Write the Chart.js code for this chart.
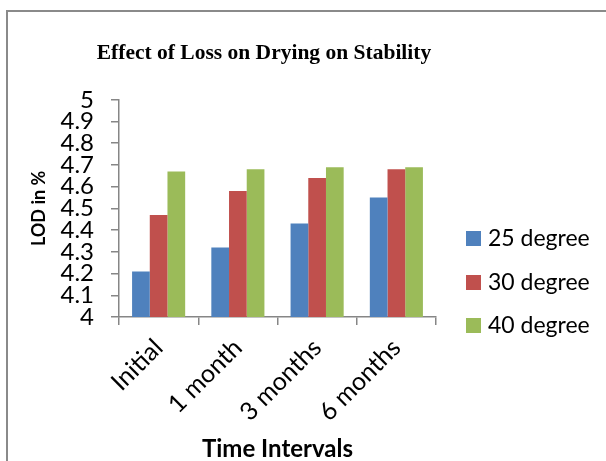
<!DOCTYPE html>
<html>
<head>
<meta charset="utf-8">
<script src="https://cdn.jsdelivr.net/npm/chart.js@4.4.0/dist/chart.umd.min.js"></script>
<style>
  html, body { margin: 0; padding: 0; background: #fff; overflow: hidden; }
  #wrap { position: relative; width: 606px; height: 461px; }
  #frame { position: absolute; left: 6px; top: 10px; width: 700px; height: 600px; border: 2px solid #8a8a8a; box-sizing: border-box; }
  canvas { position: absolute; left: 0; top: 0; }
</style>
</head>
<body>
<div id="wrap">
  <div id="frame"></div>
  <canvas id="myChart" width="606" height="461"></canvas>
</div>
<script>
// Data
const categories = ['Initial', '1 month', '3 months', '6 months'];
const seriesNames = ['25 degree', '30 degree', '40 degree'];
const deg25 = [4.21, 4.32, 4.43, 4.55];
const deg30 = [4.47, 4.58, 4.64, 4.68];
const deg40 = [4.67, 4.68, 4.69, 4.69];
const yTicks = [4, 4.1, 4.2, 4.3, 4.4, 4.5, 4.6, 4.7, 4.8, 4.9, 5];

const colors = ['#4F81BD', '#C0504D', '#9BBB59'];
const axisGray = '#868686';
const sans = 'Lato, "Open Sans", sans-serif';

// Legend drawn at the right, like the Excel original
const sideLegend = {
    id: 'sideLegend',
    afterDraw(chart) {
        const ctx = chart.ctx;
        const rows = [238, 282, 325];
        ctx.save();
        ctx.font = '23px ' + sans;
        ctx.textBaseline = 'middle';
        ctx.textAlign = 'left';
        chart.data.datasets.forEach((ds, i) => {
            ctx.fillStyle = ds.backgroundColor;
            ctx.fillRect(466, rows[i] - 7, 15, 15);
            ctx.fillStyle = '#000';
            ctx.fillText(ds.label, 488, rows[i] + 1);
        });
        ctx.restore();
    }
};

const data = {
    labels: categories,
    datasets: [
        { label: seriesNames[0], data: deg25, backgroundColor: colors[0] },
        { label: seriesNames[1], data: deg30, backgroundColor: colors[1] },
        { label: seriesNames[2], data: deg40, backgroundColor: colors[2] },
    ],
};

const config = {
    type: 'bar',
    data: data,
    options: {
        responsive: false,
        animation: false,
        devicePixelRatio: 1,
        layout: { padding: { left: 28, right: 106, top: 0, bottom: 0 } },
        datasets: {
            bar: { categoryPercentage: 0.67, barPercentage: 1.0 }
        },
        plugins: {
            legend: { display: false },
            tooltip: { enabled: false },
            title: {
                display: true,
                text: 'Effect of Loss on Drying on Stability',
                color: '#000',
                font: { family: '"Liberation Serif", serif', size: 21.5, weight: 'bold' },
                padding: { top: 41, bottom: 33 },
            },
        },
        scales: {
            x: {
                afterFit(scale) { scale.height = 144; },
                border: { display: true, color: axisGray, width: 1.5 },
                grid: { drawOnChartArea: false, drawTicks: true, tickLength: 8, color: axisGray, lineWidth: 1.5, offset: true },
                ticks: {
                    color: '#000',
                    font: { family: sans, size: 25 },
                    minRotation: 45,
                    maxRotation: 45,
                    padding: 8,
                    autoSkip: false,
                },
                title: {
                    display: true,
                    text: 'Time Intervals',
                    color: '#000',
                    font: { family: sans, size: 24, weight: 'bold', lineHeight: 1 },
                    padding: { top: 0, bottom: 0 },
                },
            },
            y: {
                min: 4,
                max: 5,
                afterFit(scale) { scale.width = 91; },
                afterBuildTicks(scale) { scale.ticks = yTicks.map(v => ({ value: v })); },
                border: { display: true, color: axisGray, width: 1.5 },
                grid: { drawOnChartArea: false, drawTicks: true, tickLength: 8, color: axisGray, lineWidth: 1.5 },
                ticks: {
                    color: '#000',
                    font: { family: sans, size: 24 },
                    padding: 17,
                    autoSkip: false,
                    callback: (v) => String(+Number(v).toFixed(1)),
                },
                title: {
                    display: true,
                    text: 'LOD in %',
                    color: '#000',
                    font: { family: sans, size: 18, weight: 'bold' },
                    padding: { top: 0, bottom: 0 },
                },
            },
            // empty spacer on the right so the title centres over the whole chart
            spacer: {
                position: 'right',
                axis: 'y',
                type: 'linear',
                afterFit(scale) { scale.width = 64; },
                border: { display: false },
                grid: { display: false },
                ticks: { display: false },
            },
        },
    },
    plugins: [sideLegend],
};

const ctx = document.getElementById('myChart').getContext('2d');
const myChart = new Chart(ctx, config);
</script>
</body>
</html>
